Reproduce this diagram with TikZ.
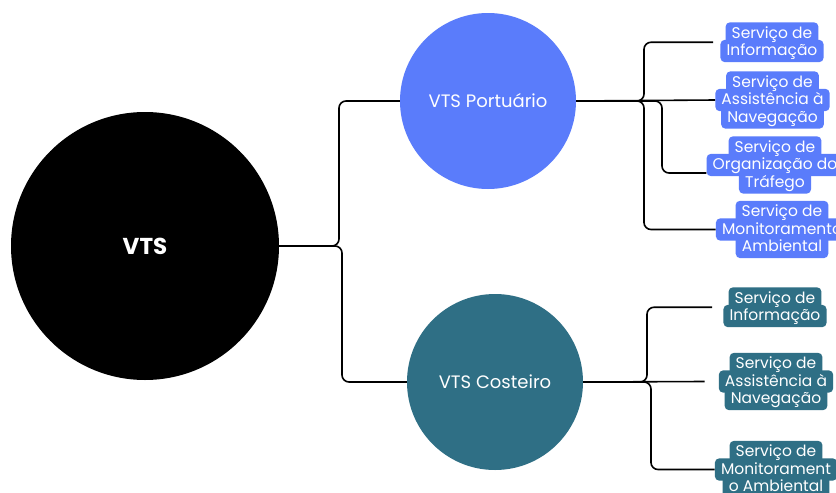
\documentclass[tikz,border=0pt]{standalone}
\usepackage{fontspec}
\setmainfont{Poppins}
\usetikzlibrary{fit,backgrounds}
\definecolor{pblue}{HTML}{5A7CFB}
\definecolor{cteal}{HTML}{2F6F85}
\begin{document}
\begin{tikzpicture}[x=1pt,y=-1pt,
  conn/.style={draw=black, line width=1.6pt, rounded corners=7pt},
  hub/.style={circle, inner sep=0pt, text=white},
  ln/.style={text=white, inner xsep=6pt, inner ysep=0pt, text height=15.5pt, text depth=6.5pt,
    font=\fontsize{15.5}{17.5}\selectfont},
  grp/.style={inner sep=0pt}
]
\useasboundingbox (0,0) rectangle (836,493);

% hubs
\node[hub, fill=black, minimum size=268pt, font=\fontsize{23}{27}\selectfont\bfseries] (vts) at (145,246) {VTS};
\node[hub, fill=pblue, minimum size=176pt, font=\fontsize{18}{22}\selectfont] (port) at (488,101) {VTS Portuário};
\node[hub, fill=cteal, minimum size=176pt, font=\fontsize{18}{22}\selectfont] (cost) at (495,382) {VTS Costeiro};

% upper service boxes (one node per line)
\node[ln] (p1a) at (772,33.5) {Serviço de};
\node[ln] (p1b) at (772,51) {Informação};
\node[grp, fit=(p1a)(p1b)] (p1) {};

\node[ln] (p2a) at (772.5,82.5) {Serviço de};
\node[ln] (p2b) at (772.5,100) {Assistência à};
\node[ln] (p2c) at (772.5,117.5) {Navegação};
\node[grp, fit=(p2a)(p2b)(p2c)] (p2) {};

\node[ln] (p3a) at (775,147.5) {Serviço de};
\node[ln] (p3b) at (775,165) {Organização do};
\node[ln] (p3c) at (775,182.5) {Tráfego};
\node[grp, fit=(p3a)(p3b)(p3c)] (p3) {};

\node[ln] (p4a) at (782,212) {Serviço de};
\node[ln] (p4b) at (782,229.5) {Monitoramento};
\node[ln] (p4c) at (782,247) {Ambiental};
\node[grp, fit=(p4a)(p4b)(p4c)] (p4) {};

% lower service boxes
\node[ln] (c1a) at (775,298.5) {Serviço de};
\node[ln] (c1b) at (775,316) {Informação};
\node[grp, fit=(c1a)(c1b)] (c1) {};

\node[ln] (c2a) at (776,364) {Serviço de};
\node[ln] (c2b) at (776,381.5) {Assistência à};
\node[ln] (c2c) at (776,399) {Navegação};
\node[grp, fit=(c2a)(c2b)(c2c)] (c2) {};

\node[ln] (c3a) at (776,452) {Serviço de};
\node[ln] (c3b) at (776,469.5) {Monitorament};
\node[ln] (c3c) at (776,487) {o Ambiental};
\node[grp, fit=(c3a)(c3b)(c3c)] (c3) {};

% highlight backgrounds
\begin{pgfonlayer}{background}
\fill[white] (0,0) rectangle (836,493);
\foreach \n in {p1a,p1b,p2a,p2b,p2c,p3a,p3b,p3c,p4a,p4b,p4c}
  \fill[pblue, rounded corners=4.5pt] (\n.south west) rectangle (\n.north east);
\foreach \n in {c1a,c1b,c2a,c2b,c2c,c3a,c3b,c3c}
  \fill[cteal, rounded corners=4.5pt] (\n.south west) rectangle (\n.north east);
\end{pgfonlayer}

% junction coordinates
\coordinate (jv) at (339,0);
\coordinate (jv2) at (342,0);
\coordinate (ju) at (644,0);
\coordinate (ju3) at (662,0);
\coordinate (jc) at (647,0);
\coordinate (jc2) at (651,0);

% VTS connectors
\draw[conn] (vts.east) -| (jv |- port.west) -- (port.west);
\draw[conn] (vts.east) -| (jv2 |- cost.west) -- (cost.west);

% upper connectors
\coordinate (e1) at ([xshift=-7pt]p1.west);
\coordinate (e3) at ([yshift=-8pt]p3.west);
\draw[conn] (port.east) -| (ju |- e1) -- (e1);
\draw[conn] (port.east) -- (p2.west);
\draw[conn] (port.east) -| (ju3 |- e3) -- (e3);
\draw[conn] (port.east) -| (ju |- p4.west) -- (p4.west);

% lower connectors
\coordinate (f1) at ([xshift=-11pt]c1.west);
\coordinate (f2) at ([xshift=-14pt]c2.west);
\draw[conn] (cost.east) -| (jc |- f1) -- (f1);
\draw[conn] (cost.east) -- (f2);
\draw[conn] (cost.east) -| (jc2 |- c3.west) -- (c3.west);
\end{tikzpicture}
\end{document}
